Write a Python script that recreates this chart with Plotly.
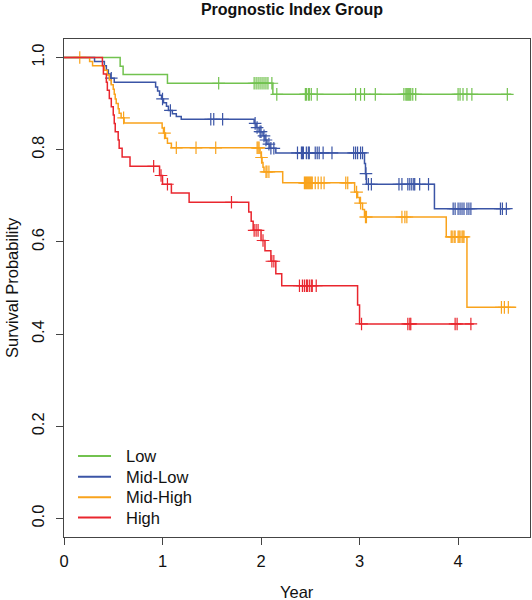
import numpy as np
import plotly.graph_objects as go

# ---------------- data ----------------
groups = ["Low", "Mid-Low", "Mid-High", "High"]

low_t = [0.57, 0.60, 1.05, 2.12]
low_s = [0.981, 0.963, 0.944, 0.920]
low_cens = [1.57, 1.93, 1.95, 1.97, 1.99, 2.01, 2.03, 2.05, 2.07, 2.11, 2.16,
            2.45, 2.46, 2.48, 2.49, 2.51, 2.57, 2.96, 3.01, 3.05, 3.16,
            3.45, 3.47, 3.48, 3.49, 3.50, 3.51, 3.52, 3.54, 3.57,
            4.00, 4.02, 4.05, 4.09, 4.14, 4.50]
low_end = 4.54

midlow_t = [0.31, 0.41, 0.43, 0.45, 0.47, 0.51, 0.93, 0.95, 0.97, 0.99, 1.01,
            1.04, 1.06, 1.10, 1.14, 1.19, 1.93, 1.95, 1.98, 2.02, 2.04, 2.06,
            2.09, 2.15, 3.05, 3.06, 3.07, 3.76]
midlow_s = [0.991, 0.982, 0.973, 0.964, 0.955, 0.946, 0.936, 0.927, 0.918,
            0.910, 0.902, 0.894, 0.885, 0.878, 0.872, 0.866, 0.857, 0.848,
            0.839, 0.830, 0.821, 0.812, 0.803, 0.793, 0.770, 0.748, 0.725,
            0.672]
midlow_cens = [0.48, 1.00, 1.08, 1.49, 1.52, 1.61, 1.94, 1.96, 1.99, 2.00,
               2.03, 2.05, 2.08, 2.10, 2.13, 2.37, 2.41, 2.42, 2.43, 2.46,
               2.48, 2.49, 2.55, 2.57, 2.59, 2.63, 2.72, 2.94, 2.96, 2.98,
               3.01, 3.03, 3.065, 3.09, 3.12, 3.40, 3.43, 3.49, 3.51, 3.53,
               3.55, 3.56, 3.61, 3.70, 3.95, 3.97, 4.00, 4.02, 4.04, 4.06,
               4.09, 4.11, 4.13, 4.43, 4.45, 4.49]
midlow_end = 4.53

midhigh_t = [0.26, 0.29, 0.41, 0.44, 0.46, 0.48, 0.50, 0.51, 0.52, 0.53, 0.55,
             0.56, 0.58, 0.61, 0.996, 1.01, 1.03, 1.05, 1.09, 1.99, 2.00,
             2.01, 2.02, 2.03, 2.22, 2.95, 2.98, 3.00, 3.03, 3.05, 3.88, 4.09]
midhigh_s = [0.991, 0.982, 0.972, 0.962, 0.951, 0.941, 0.931, 0.920, 0.910,
             0.900, 0.889, 0.879, 0.869, 0.858, 0.847, 0.836, 0.825, 0.814,
             0.804, 0.793, 0.783, 0.772, 0.762, 0.752, 0.728, 0.708, 0.696,
             0.684, 0.670, 0.654, 0.611, 0.458]
midhigh_cens = [0.16, 0.605, 1.02, 1.14, 1.34, 1.54, 1.96, 1.97, 1.98, 2.005,
                2.05, 2.06, 2.08, 2.44, 2.45, 2.46, 2.47, 2.48, 2.49, 2.50,
                2.51, 2.52, 2.55, 2.58, 2.61, 2.64, 2.86, 2.88, 2.97, 3.01,
                3.06, 3.07, 3.43, 3.46, 3.48, 3.93, 3.94, 3.96, 3.97, 4.00,
                4.01, 4.02, 4.04, 4.05, 4.06, 4.44, 4.47, 4.51]
midhigh_end = 4.59

high_t = [0.39, 0.40, 0.43, 0.44, 0.46, 0.48, 0.50, 0.51, 0.52, 0.55, 0.56,
          0.59, 0.67, 0.97, 1.00, 1.09, 1.27, 1.875, 1.90, 1.92, 2.00, 2.04,
          2.10, 2.15, 2.21, 2.98, 3.00]
high_s = [0.982, 0.964, 0.946, 0.929, 0.911, 0.893, 0.875, 0.857, 0.839,
          0.821, 0.803, 0.784, 0.764, 0.744, 0.725, 0.706, 0.686, 0.665,
          0.645, 0.625, 0.603, 0.581, 0.558, 0.531, 0.505, 0.463, 0.422]
high_cens = [0.91, 0.985, 1.05, 1.70, 1.93, 1.95, 1.97, 2.02, 2.11, 2.13,
             2.39, 2.42, 2.44, 2.46, 2.47, 2.49, 2.51, 2.52, 2.56, 3.02,
             3.49, 3.51, 3.52, 3.97, 3.99, 4.13]
high_end = 4.16

x_ticks = [0, 1, 2, 3, 4]
y_ticks = [0.0, 0.2, 0.4, 0.6, 0.8, 1.0]
y_tick_labels = ["0.0", "0.2", "0.4", "0.6", "0.8", "1.0"]

colors = ["#72c24f", "#3b55a6", "#f9a31c", "#e9262e"]

series = [
    (low_t, low_s, low_cens, low_end),
    (midlow_t, midlow_s, midlow_cens, midlow_end),
    (midhigh_t, midhigh_s, midhigh_cens, midhigh_end),
    (high_t, high_s, high_cens, high_end),
]

# ---------------- layout geometry (pixels) ----------------
W, H = 532, 600
L, R, T, B = 64, 2, 39, 63
PW, PH = W - L - R, H - T - B


def px_x(p):
    return (p - L) / PW


def px_y(p):
    return (H - B - p) / PH


TEXT = "#111111"
FS = 16.5

# ---------------- figure ----------------
fig = go.Figure()
for name, (t, s, cens, end), col in zip(groups, series, colors):
    xs = [0.0] + list(t) + [end]
    ys = [1.0] + list(s) + [s[-1]]
    fig.add_trace(go.Scatter(
        x=xs, y=ys, mode="lines", name=name, showlegend=False,
        line=dict(shape="hv", color=col, width=1.5),
        hoverinfo="skip"))
    idx = np.searchsorted(np.array(t), np.array(cens), side="right")
    cy = [1.0 if i == 0 else s[i - 1] for i in idx]
    fig.add_trace(go.Scatter(
        x=cens, y=cy, mode="markers", showlegend=False,
        marker=dict(symbol="cross-thin", size=9,
                    line=dict(width=1.2, color=col)),
        hoverinfo="skip"))

axis_common = dict(
    showgrid=False, zeroline=False, showline=True, mirror=True,
    linecolor="#444444", linewidth=1, ticks="outside", ticklen=7,
    tickcolor="#444444", tickwidth=1,
    tickfont=dict(size=FS, color=TEXT),
)

# legend drawn as shapes + text (R-style legend, no box)
legend_rows = [456, 476.7, 497.3, 517.5]
shapes = []
annotations = []
for name, col, ry in zip(groups, colors, legend_rows):
    shapes.append(dict(type="line", xref="paper", yref="paper",
                       x0=px_x(78), x1=px_x(111), y0=px_y(ry), y1=px_y(ry),
                       line=dict(color=col, width=2)))
    annotations.append(dict(text=name, xref="paper", yref="paper",
                            x=px_x(124), y=px_y(ry), xanchor="left",
                            yanchor="middle", showarrow=False,
                            font=dict(size=FS, color=TEXT)))

annotations += [
    dict(text="Survival Probability", xref="paper", yref="paper",
         x=px_x(12), y=0.5, textangle=-90, showarrow=False,
         xanchor="center", yanchor="middle",
         font=dict(size=FS, color=TEXT)),
    dict(text="Year", xref="paper", yref="paper",
         x=px_x(297), y=px_y(592), showarrow=False,
         xanchor="center", yanchor="middle",
         font=dict(size=FS, color=TEXT)),
]

fig.update_layout(
    width=W, height=H,
    margin=dict(l=L, r=R, t=T, b=B),
    paper_bgcolor="white", plot_bgcolor="white",
    font=dict(family="Liberation Sans, Arial, sans-serif", size=FS,
              color=TEXT),
    title=dict(text="<b>Prognostic Index Group</b>", xref="container",
               yref="container", x=292 / W, y=1 - 9 / H,
               xanchor="center", yanchor="middle",
               font=dict(size=16, color=TEXT)),
    xaxis=dict(range=[0, 4.73], tickvals=x_ticks, ticklabelstandoff=2,
               **axis_common),
    yaxis=dict(range=[-0.04, 1.04], tickvals=y_ticks,
               ticktext=y_tick_labels, tickangle=-90, ticklabelstandoff=5,
               **axis_common),
    showlegend=False,
    hovermode=False,
    shapes=shapes,
    annotations=annotations,
)

fig.write_html(
    "out.html",
    config={"responsive": False, "displayModeBar": False},
    post_script="document.body.style.margin='0';"
                "document.body.style.padding='0';",
)
